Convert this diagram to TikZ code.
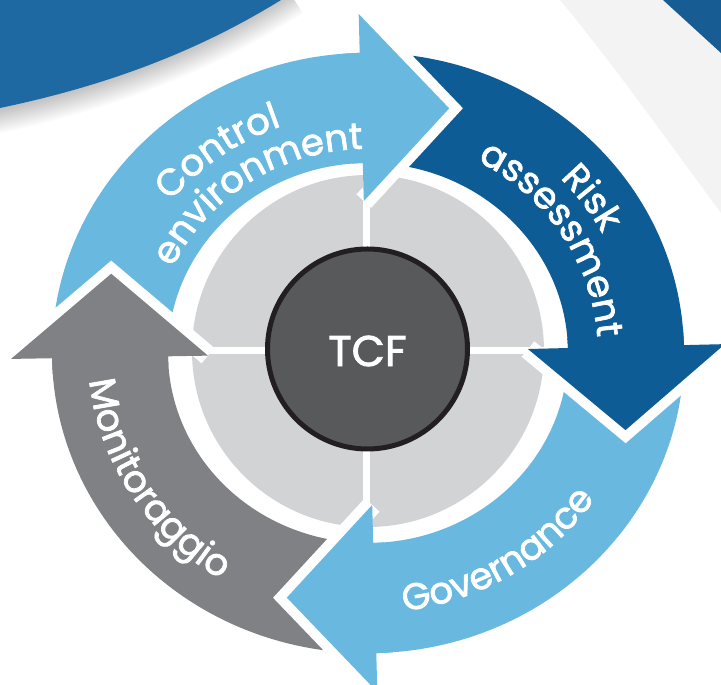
\documentclass[tikz,border=0pt]{standalone}
\usepackage{fontspec}
\setmainfont{Poppins}
\newfontfamily\popf{Poppins}[FakeBold=2]
\usetikzlibrary{decorations.text}
\definecolor{lblue}{HTML}{68B8E0}
\definecolor{dblue}{HTML}{0E5C95}
\definecolor{agray}{HTML}{808184}
\definecolor{disk}{HTML}{D1D3D4}
\definecolor{core}{HTML}{58595B}
\definecolor{coreline}{HTML}{231F20}
\definecolor{swoosh}{HTML}{1E69A1}
\definecolor{band}{HTML}{F3F3F3}
\definecolor{corner}{HTML}{175C93}
\newcommand\ringf{\popf\fontsize{37pt}{37pt}\selectfont}
% #1 text, #2 centre angle, #3 radius, #4 = 1 clockwise, -1 counter-clockwise
\newcommand\ringtext[4]{%
  \pgfmathsetmacro\rta{#2+#4*50}\pgfmathsetmacro\rtb{#2-#4*50}%
  \pgfmathsetmacro\rtry{0.95*#3}%
  \path[decorate,decoration={text along path,text={|\ringf|#1},text align=center,text color=white}]
    ({368+#3*cos(\rta)},{332+\rtry*sin(\rta)}) arc[start angle=\rta, end angle=\rtb, x radius=#3, y radius=\rtry];}
% ring arrow pieces (inside the ring scope)
\newcommand\shaft[3]{% colour, tail angle, head angle
  \fill[#1] (#2:316) arc[start angle=#2, end angle=#3, radius=316] -- (#3:200) arc[start angle=#3, end angle=#2, radius=200] -- cycle;}
\newcommand\head[2]{% colour, head angle
  \pgfmathsetmacro\ht{#2-19}\pgfmathsetmacro\hb{#2+3}\pgfmathsetmacro\hc{#2-0.4}%
  \draw[white, line width=20pt, line join=miter, line cap=butt] (#2:160) -- (\ht:270) -- (#2:357);
  \fill[#1] (#2:357) -- (\ht:270) -- (#2:160) -- cycle;
  \fill[#1] (\hb:316) arc[start angle=\hb, end angle=\hc, radius=316] -- (\hc:200) arc[start angle=\hc, end angle=\hb, radius=200] -- cycle;}
\begin{document}
\begin{tikzpicture}[x=1pt,y=1pt]
\useasboundingbox (0,0) rectangle (721,685);
\clip (0,0) rectangle (721,685);
\fill[white] (0,0) rectangle (721,685);
% background
\fill[band] (560,685) .. controls (610,625) and (665,548) .. (721,472) -- (721,685) -- cycle;
\fill[corner] (663,685) -- (721,685) -- (721,632) -- cycle;
\foreach \i in {1,...,12}
  \draw[black, opacity=0.018, line width=\i*4pt] (-10,574) .. controls (110,600) and (200,635) .. (290,692);
\fill[swoosh] (0,685) -- (281,685) .. controls (200,635) and (110,600) .. (0,577) -- cycle;
% centre disk
\fill[disk] (368,334) circle[radius=176];
\draw[white, line width=7.5pt] (180,334.5) -- (556,334.5);
\draw[white, line width=7.5pt] (366.5,150) -- (366.5,520);
\node[name=tcf, circle, draw=coreline, line width=5pt, fill=core, minimum size=200pt, inner sep=0pt] at (367.5,336) {};
\node[name=tcflabel, text=white, font=\popf\fontsize{43pt}{43pt}\selectfont, inner sep=0pt] at (367.5,334) {TCF};
% ring arrows
\begin{scope}[shift={(368,332)}, yscale=0.95]
  \shaft{lblue}{181}{91.5}
  \shaft{dblue}{91.5}{1.5}
  \shaft{lblue}{1.5}{-88.5}
  \shaft{agray}{-88.5}{-179}
  \head{lblue}{91.5}
  \head{dblue}{1.5}
  \head{lblue}{-88.5}
  \head{agray}{-179}
\end{scope}
% labels
\ringtext{Control}{126.2}{254}{1}
\ringtext{environment}{123.7}{215}{1}
\ringtext{Risk}{35.2}{266}{1}
\ringtext{assessment}{32.4}{230}{1}
\ringtext{Governance}{-57.7}{274}{-1}
\ringtext{Monitoraggio}{211.6}{280}{-1}
\end{tikzpicture}
\end{document}
